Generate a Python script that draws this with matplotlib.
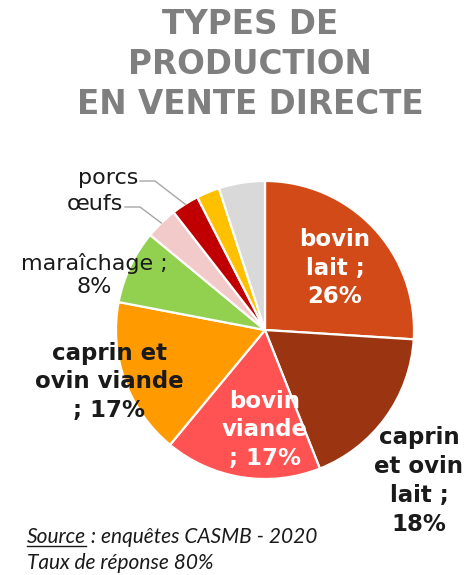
import numpy as np
import matplotlib
matplotlib.use("Agg")
import matplotlib.pyplot as plt
from matplotlib.transforms import Affine2D
from matplotlib.lines import Line2D

# data (percent)
labels = ["bovin lait", "caprin et ovin lait", "bovin viande", "caprin et ovin viande",
          "maraîchage", "œufs", "porcs", "autre 1", "autre 2"]
values = [26, 18, 17, 17, 8, 3.5, 3, 2.5, 5]
colors = ["#D24A18", "#9A3411", "#FF5353", "#FF9A00", "#92D050",
          "#F2CACA", "#C00000", "#FFC000", "#D9D9D9"]

W, H = 466, 575
fig = plt.figure(figsize=(W / 100, H / 100), dpi=100)
px = Affine2D().scale(1 / W, -1 / H).translate(0, 1) + fig.transFigure

# pie centre and radius in pixels
cx, cy, r = 265, 330, 152
ax = fig.add_axes([(cx - r) / W, (H - cy - r) / H, 2 * r / W, 2 * r / H])
wedges, _ = ax.pie(values, colors=colors, startangle=90, counterclock=False,
                   radius=1, wedgeprops=dict(edgecolor="white", linewidth=1.6))
ax.set_xlim(-1.02, 1.02)
ax.set_ylim(-1.02, 1.02)
ax.set_aspect("equal")
ax.axis("off")

# title
for txt, y in [("TYPES DE", 24), ("PRODUCTION", 64), ("EN VENTE DIRECTE", 104)]:
    fig.text(250, y, txt, transform=px, ha="center", va="center",
             fontsize=23.5, fontweight="bold", color="#7F7F7F")

bold = dict(transform=px, ha="center", va="center", fontsize=16.5,
            fontweight="bold", linespacing=1.32)
fig.text(335, 268, "bovin\nlait ;\n26%", color="white", **bold)
fig.text(265, 430, "bovin\nviande\n; 17%", color="white", **bold)
fig.text(109, 382, "caprin et\novin viande\n; 17%", color="#1A1A1A", **bold)
fig.text(419, 481, "caprin\net ovin\nlait ;\n18%", color="#1A1A1A", **bold)

fig.text(94, 275, "maraîchage ;\n8%", transform=px, ha="center", va="center",
         fontsize=16, color="#1A1A1A", linespacing=1.15)

# small slices with leader lines
def wedge_point(w, rad=1.0):
    mid = np.deg2rad((w.theta1 + w.theta2) / 2)
    return cx + r * rad * np.cos(mid), cy - r * rad * np.sin(mid)

for i, ty, elbow in [(5, 204, 140), (6, 178, 155)]:
    fig.text(elbow - 17, ty, labels[i], transform=px, ha="right", va="center",
             fontsize=16, color="#1A1A1A")
    x2, y2 = wedge_point(wedges[i], 0.98)
    fig.add_artist(Line2D([elbow - 15, elbow, x2], [ty + 3, ty + 3, y2],
                          transform=px, color="#A6A6A6", linewidth=1))

# source
font_src = dict(transform=px, ha="left", va="baseline", fontsize=15,
                style="italic", family="Lato", color="#1A1A1A")
src = fig.text(27, 543, "Source", **font_src)
fig.canvas.draw()
bb = src.get_window_extent(fig.canvas.get_renderer())
x_end = bb.x1
fig.add_artist(Line2D([27, x_end], [546, 546], transform=px, color="#1A1A1A", linewidth=1))
fig.text(x_end, 543, " : enquêtes CASMB - 2020", **font_src)
fig.text(27, 569, "Taux de réponse 80%", **font_src)

fig.savefig("out.png", dpi=100)
